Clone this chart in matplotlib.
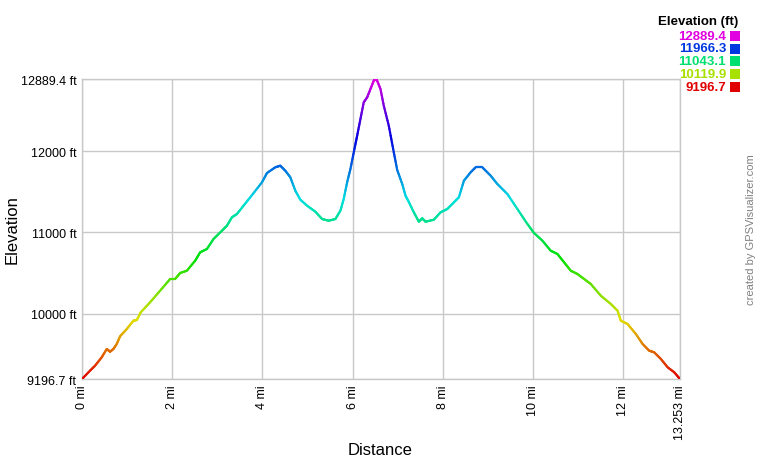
import numpy as np
import matplotlib
matplotlib.use("Agg")
import matplotlib.pyplot as plt
from matplotlib.collections import LineCollection
from matplotlib.colors import hsv_to_rgb

plt.rcParams['font.family'] = ['Liberation Sans', 'DejaVu Sans']

# Distance (mi) and elevation (ft)
distance_mi = [0.000, 0.178, 0.289, 0.437, 0.548, 0.622, 0.695, 0.770, 0.844, 0.992,
               1.139, 1.214, 1.303, 1.509, 1.731, 1.953, 2.064, 2.175, 2.324, 2.508,
               2.619, 2.768, 2.915, 3.101, 3.212, 3.323, 3.434, 3.580, 3.729, 3.989,
               4.100, 4.284, 4.395, 4.506, 4.617, 4.728, 4.839, 4.988, 5.172, 5.321,
               5.467, 5.616, 5.727, 5.800, 5.876, 5.949, 6.038, 6.098, 6.171, 6.244,
               6.320, 6.393, 6.466, 6.504, 6.541, 6.615, 6.688, 6.799, 6.910, 6.986,
               7.097, 7.170, 7.243, 7.354, 7.465, 7.540, 7.614, 7.798, 7.947, 8.095,
               8.242, 8.353, 8.464, 8.613, 8.724, 8.872, 9.057, 9.205, 9.427, 9.649,
               9.871, 10.018, 10.204, 10.388, 10.537, 10.684, 10.832, 10.981, 11.128, 11.276,
               11.498, 11.720, 11.869, 11.942, 12.091, 12.275, 12.424, 12.570, 12.681, 12.830,
               12.979, 13.125, 13.253]
elevation_ft = [9196.7, 9298.9, 9360.4, 9463.8, 9566.0, 9532.7, 9566.0, 9627.5, 9722.3, 9812.1,
                9914.3, 9922.9, 10017.7, 10140.8, 10283.6, 10427.6, 10427.6, 10501.4, 10529.8, 10652.9,
                10756.2, 10796.9, 10920.0, 11022.1, 11083.7, 11187.1, 11227.7, 11329.9, 11433.2, 11617.9,
                11732.4, 11802.5, 11822.2, 11760.7, 11679.4, 11514.5, 11403.7, 11329.9, 11256.0, 11166.1,
                11145.2, 11166.1, 11268.3, 11412.3, 11617.9, 11781.6, 12027.8, 12191.5, 12397.0, 12602.6,
                12664.1, 12766.3, 12868.5, 12889.4, 12868.5, 12766.3, 12560.7, 12314.6, 11987.2, 11769.3,
                11597.0, 11452.9, 11375.4, 11248.6, 11132.9, 11174.8, 11132.9, 11157.5, 11248.6, 11289.2,
                11371.7, 11433.2, 11637.6, 11741.0, 11802.5, 11802.5, 11699.1, 11597.0, 11473.9, 11289.2,
                11104.6, 10993.8, 10899.0, 10775.9, 10735.3, 10633.2, 10529.8, 10489.1, 10427.6, 10366.1,
                10222.0, 10119.9, 10037.4, 9914.3, 9873.7, 9750.6, 9627.5, 9545.0, 9525.3, 9442.9,
                9340.7, 9279.2, 9196.7]

x_ticks = [0, 2, 4, 6, 8, 10, 12, 13.253]
x_tick_labels = ["0 mi", "2 mi", "4 mi", "6 mi", "8 mi", "10 mi", "12 mi", "13.253 mi"]
y_ticks = [9196.7, 10000, 11000, 12000, 12889.4]
y_tick_labels = ["9196.7 ft", "10000 ft", "11000 ft", "12000 ft", "12889.4 ft"]
legend_values = [12889.4, 11966.3, 11043.1, 10119.9, 9196.7]

ymin, ymax = 9196.7, 12889.4


def elev_color(v):
    t = (v - ymin) / (ymax - ymin)
    t = min(max(t, 0.0), 1.0)
    return hsv_to_rgb([t * 300.0 / 360.0, 1.0, 0.88])


fig = plt.figure(figsize=(7.6, 4.6), dpi=100)
ax = fig.add_axes([82 / 760, 80 / 460, (680 - 82) / 760, 300 / 460])

# densify for smooth gradient
xd, yd = [], []
for i in range(len(distance_mi) - 1):
    n = 8
    for k in range(n):
        f = k / n
        xd.append(distance_mi[i] + f * (distance_mi[i + 1] - distance_mi[i]))
        yd.append(elevation_ft[i] + f * (elevation_ft[i + 1] - elevation_ft[i]))
xd.append(distance_mi[-1]); yd.append(elevation_ft[-1])
xd = np.array(xd); yd = np.array(yd)
pts = np.column_stack([xd, yd]).reshape(-1, 1, 2)
segs = np.concatenate([pts[:-1], pts[1:]], axis=1)
cols = [elev_color((yd[i] + yd[i + 1]) / 2) for i in range(len(yd) - 1)]
lc = LineCollection(segs, colors=cols, linewidths=1.6, capstyle='round', zorder=3)
ax.add_collection(lc)

ax.set_xlim(0, 13.253)
ax.set_ylim(ymin, ymax)
ax.set_xticks(x_ticks)
ax.set_xticklabels(x_tick_labels, rotation=90, fontsize=9)
ax.set_yticks(y_ticks)
ax.set_yticklabels(y_tick_labels, fontsize=9)
ax.tick_params(length=0, pad=4)
ax.grid(True, color='#c8c8c8', linewidth=1.0, zorder=0)
for s in ax.spines.values():
    s.set_color('#c8c8c8')
    s.set_linewidth(1.0)

fig.text(12 / 760, 1 - 230 / 460, "Elevation", rotation=90, fontsize=12,
         ha='center', va='center')
fig.text(380 / 760, 1 - 451 / 460, "Distance", fontsize=12, ha='center', va='center')

# legend
fig.text(738 / 760, 1 - 22 / 460, "Elevation (ft)", fontsize=9.5, fontweight='bold',
         ha='right', va='center')
row_y = [37, 49.5, 62, 74.5, 88]
for v, ry in zip(legend_values, row_y):
    c = elev_color(v)
    fig.text(726 / 760, 1 - ry / 460, f"{v:.1f}", fontsize=9.5, fontweight='bold',
             color=c, ha='right', va='center')
    fig.patches.append(plt.Rectangle((730 / 760, 1 - (ry + 5) / 460), 10 / 760, 10 / 460,
                                     transform=fig.transFigure, facecolor=c,
                                     edgecolor='none', figure=fig))

fig.text(751 / 760, 1 - 230 / 460, "created by GPSVisualizer.com", rotation=90,
         fontsize=8, color='#808080', ha='center', va='center')

fig.savefig("out.png", dpi=100)
